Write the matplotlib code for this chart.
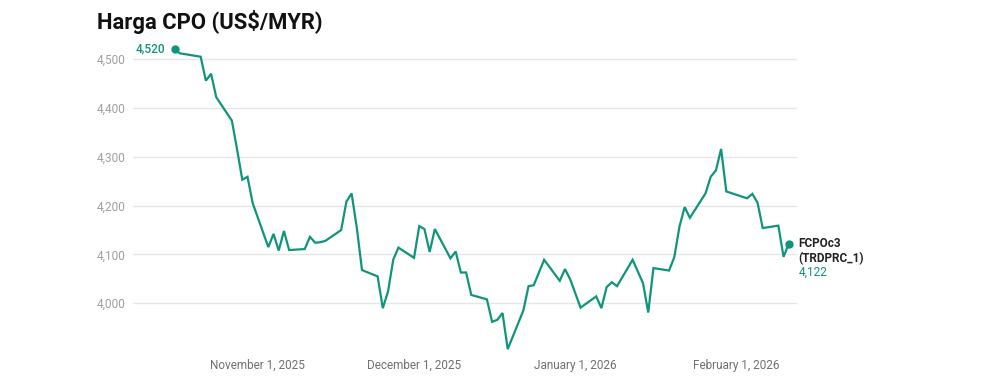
import matplotlib
matplotlib.use("Agg")
import matplotlib.pyplot as plt
import pandas as pd

# CPO futures closing prices
dates = [
    "2025-10-16", "2025-10-17", "2025-10-21", "2025-10-22", "2025-10-23", "2025-10-24",
    "2025-10-27", "2025-10-28", "2025-10-29", "2025-10-30", "2025-10-31",
    "2025-11-03", "2025-11-04", "2025-11-05", "2025-11-06", "2025-11-07",
    "2025-11-10", "2025-11-11", "2025-11-12", "2025-11-13", "2025-11-14",
    "2025-11-17", "2025-11-18", "2025-11-19", "2025-11-20", "2025-11-21",
    "2025-11-24", "2025-11-25", "2025-11-26", "2025-11-27", "2025-11-28",
    "2025-12-01", "2025-12-02", "2025-12-03", "2025-12-04", "2025-12-05",
    "2025-12-08", "2025-12-09", "2025-12-10", "2025-12-11", "2025-12-12",
    "2025-12-15", "2025-12-16", "2025-12-17", "2025-12-18", "2025-12-19",
    "2025-12-22", "2025-12-23", "2025-12-24", "2025-12-26",
    "2025-12-29", "2025-12-30", "2025-12-31", "2026-01-02",
    "2026-01-05", "2026-01-06", "2026-01-07", "2026-01-08", "2026-01-09",
    "2026-01-12", "2026-01-13", "2026-01-14", "2026-01-15", "2026-01-16",
    "2026-01-19", "2026-01-20", "2026-01-21", "2026-01-22", "2026-01-23",
    "2026-01-26", "2026-01-27", "2026-01-28", "2026-01-29", "2026-01-30",
    "2026-02-03", "2026-02-04", "2026-02-05", "2026-02-06",
    "2026-02-09", "2026-02-10", "2026-02-11",
]
prices = [
    4520, 4512, 4505, 4456, 4470, 4422,
    4374, 4315, 4253, 4259, 4205,
    4115, 4142, 4108, 4148, 4109,
    4111, 4136, 4124, 4125, 4128,
    4150, 4208, 4225, 4155, 4068,
    4055, 3990, 4024, 4089, 4114,
    4093, 4158, 4152, 4105, 4152,
    4092, 4106, 4063, 4063, 4017,
    4008, 3962, 3966, 3980, 3906,
    3985, 4035, 4037, 4089,
    4046, 4070, 4049, 3991,
    4014, 3990, 4033, 4043, 4035,
    4089, 4065, 4041, 3981, 4072,
    4067, 4094, 4157, 4197, 4175,
    4225, 4259, 4272, 4316, 4229,
    4215, 4224, 4206, 4154,
    4159, 4095, 4122,
]
y_ticks = [4000, 4100, 4200, 4300, 4400, 4500]
x_tick_dates = ["2025-11-01", "2025-12-01", "2026-01-01", "2026-02-01"]
x_tick_labels = ["November 1, 2025", "December 1, 2025", "January 1, 2026", "February 1, 2026"]
series_name = "FCPOc3\n(TRDPRC_1)"
title = "Harga CPO (US$/MYR)"

green = "#0f957a"
plt.rcParams["font.family"] = ["Roboto", "DejaVu Sans"]

x = pd.to_datetime(dates)

fig = plt.figure(figsize=(10.07, 3.85), dpi=100)
ax = fig.add_axes([133 / 1007, 30 / 385, (797 - 133) / 1007, (340 - 30) / 385])

ax.plot(x, prices, color=green, lw=1.6, solid_joinstyle="miter")
ax.plot([x[0], x[-1]], [prices[0], prices[-1]], "o", color=green, ms=5)

ax.set_xlim(pd.Timestamp("2025-10-08"), pd.Timestamp("2026-02-12 14:00"))
ax.set_ylim(3894, 4529)

ax.set_yticks(y_ticks)
ax.set_yticklabels([f"{v:,}" for v in y_ticks])
ax.set_xticks(pd.to_datetime(x_tick_dates))
ax.set_xticklabels(x_tick_labels)

ax.grid(axis="y", color="#e6e6e6", lw=1)
ax.set_axisbelow(True)
for s in ax.spines.values():
    s.set_visible(False)
ax.tick_params(axis="y", length=0, pad=5, labelsize=8.6, labelcolor="#a0a0a0")
ax.tick_params(axis="x", length=0, pad=3, labelsize=8.5, labelcolor="#707070")

# start and end labels
ax.annotate(f"{prices[0]:,}", (x[0], prices[0]), xytext=(-6.5, 0), textcoords="offset points",
            ha="right", va="center", fontsize=8.6, fontweight="medium", color=green)
ax.annotate(series_name, (x[-1], prices[-1]), xytext=(7, 5), textcoords="offset points",
            ha="left", va="top", fontsize=8.5, fontweight="bold", color="#222222", linespacing=1.2)
ax.annotate(f"{prices[-1]:,}", (x[-1], prices[-1]), xytext=(7, -20.5), textcoords="offset points",
            ha="left", va="center", fontsize=8.6, color=green)

fig.text(97 / 1007, 1 - 29.5 / 385, title, fontsize=15.8, fontweight="bold", color="#111111",
         ha="left", va="baseline")

fig.savefig("out.png", dpi=100)
